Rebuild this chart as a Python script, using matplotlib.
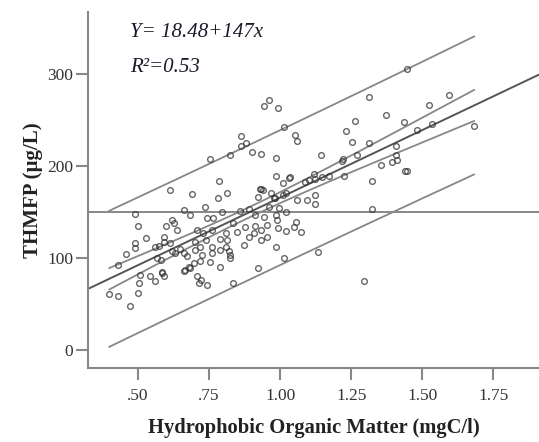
import numpy as np
import matplotlib
matplotlib.use("Agg")
import matplotlib.pyplot as plt

# ---- data ----
hom = [1.445, 1.312, 1.594, 1.523, 1.535, 1.682, 1.482, 1.374, 1.263, 1.232,
       1.435, 1.251, 1.312, 1.406, 1.406, 1.392, 1.412, 1.353, 1.271, 1.216,
       1.222, 1.225, 1.438, 1.447, 1.324, 1.324, 1.295, 1.144, 1.118, 1.101,
       1.124, 1.148, 1.171, 1.089, 1.122, 1.122, 1.093, 1.060, 1.032, 1.035,
       1.011, 1.019, 1.011, 0.980, 0.982, 0.966, 0.934, 0.940, 0.984, 0.984,
       1.013, 1.052, 1.060, 0.943, 0.961, 0.992, 0.863, 0.881, 0.863, 0.902,
       0.931, 0.822, 0.752, 0.784, 0.813, 0.781, 0.691, 0.612, 0.921, 0.734,
       0.796, 0.763, 0.743, 0.661, 0.684, 0.860, 0.891, 0.913, 0.943, 0.961,
       0.984, 0.995, 1.022, 0.989, 1.054, 1.048, 1.072, 1.022, 0.992, 0.954,
       0.931, 0.907, 0.890, 0.872, 0.849, 0.835, 0.810, 0.813, 0.790, 0.809,
       0.790, 0.819, 0.825, 0.825, 0.790, 0.833, 0.743, 0.714, 0.723, 0.708,
       0.752, 0.761, 0.761, 0.725, 0.719, 0.702, 0.699, 0.708, 0.729, 0.738,
       0.719, 0.696, 0.678, 0.661, 0.684, 0.661, 0.672, 0.649, 0.631, 0.620,
       0.614, 0.637, 0.626, 0.620, 0.600, 0.590, 0.593, 0.573, 0.561, 0.567,
       0.579, 0.585, 0.590, 0.561, 0.543, 0.508, 0.502, 0.500, 0.471, 0.430,
       0.399, 0.430, 0.459, 0.491, 0.491, 0.500, 0.491, 0.528, 1.013, 0.923,
       1.134, 0.984, 0.954, 0.931, 0.913, 0.878, 0.665, 0.928, 0.585, 0.760]
thmfp = [305.8, 274.5, 277.5, 266.5, 245.8, 243.6, 239.3, 255.3, 248.4, 237.8,
         247.3, 225.8, 224.7, 221.1, 212.0, 204.7, 206.5, 201.1, 211.3, 205.8,
         207.0, 189.0, 194.5, 194.5, 183.6, 152.7, 74.5, 211.6, 191.3, 184.7,
         185.8, 187.6, 189.0, 182.9, 168.4, 158.5, 162.9, 162.9, 186.5, 187.5,
         181.8, 170.2, 168.4, 164.7, 165.5, 170.9, 174.5, 174.0, 189.5, 208.4,
         242.2, 233.8, 227.6, 265.5, 271.3, 263.3, 232.7, 224.7, 221.8, 215.6,
         213.1, 211.6, 207.6, 183.6, 170.9, 164.7, 169.5, 173.8, 165.8, 154.9,
         149.5, 143.6, 142.9, 152.0, 146.5, 151.3, 152.7, 146.5, 144.7, 155.6,
         146.5, 153.8, 150.2, 141.1, 139.3, 133.8, 127.6, 129.1, 132.7, 135.6,
         130.2, 126.5, 122.9, 113.8, 128.4, 138.2, 127.3, 119.3, 120.0, 112.0,
         108.4, 107.6, 99.3, 102.9, 90.2, 72.0, 70.2, 72.0, 75.6, 80.0,
         95.6, 104.7, 112.0, 102.9, 112.0, 108.4, 116.7, 130.2, 126.5, 119.3,
         96.4, 93.8, 90.2, 85.8, 89.1, 105.5, 101.8, 109.1, 104.7, 107.6,
         115.6, 130.2, 138.2, 141.1, 134.5, 122.2, 117.1, 113.1, 112.0, 99.3,
         97.5, 83.6, 80.0, 74.5, 80.0, 81.1, 72.0, 61.1, 47.3, 58.5,
         60.4, 92.0, 104.0, 110.2, 116.4, 134.5, 147.3, 121.1, 100.0, 89.1,
         106.5, 112.0, 122.9, 119.3, 134.9, 133.8, 86.5, 175.0, 84.0, 130.0]

intercept = 18.48
slope = 147.0
ref_level = 150
xticks = [0.50, 0.75, 1.00, 1.25, 1.50, 1.75]
xticklabels = [".50", ".75", "1.00", "1.25", "1.50", "1.75"]
yticks = [0, 100, 200, 300]
eq_text = "Y= 18.48+147x"
r2_text = "R²=0.53"
xlabel = "Hydrophobic Organic Matter (mgC/l)"
ylabel = "THMFP (µg/L)"

x = np.array(hom)
y = np.array(thmfp)
n = len(x)

fig = plt.figure(figsize=(5.39, 4.42), dpi=100)
ax = fig.add_axes([0.1633, 0.1674, 0.8367, 0.8055])
ax.set_xlim(0.324, 1.9105)
ax.set_ylim(-20.0, 367.5)

gray = "#878787"
# reference horizontal line
ax.axhline(ref_level, color=gray, lw=1.4, zorder=1)

# regression line over full range
xl = np.array(ax.get_xlim())
ax.plot(xl, intercept + slope * xl, color="#555555", lw=1.4, zorder=2)

# confidence and prediction bands
resid = y - (intercept + slope * x)
s = np.sqrt(np.sum(resid ** 2) / (n - 2))
xm = x.mean()
sxx = np.sum((x - xm) ** 2)
tval = 1.97
xx = np.linspace(x.min(), x.max(), 200)
fit = intercept + slope * xx
se_mean = s * np.sqrt(1.0 / n + (xx - xm) ** 2 / sxx)
se_pred = s * np.sqrt(1.0 + 1.0 / n + (xx - xm) ** 2 / sxx)
for sign in (1, -1):
    ax.plot(xx, fit + sign * tval * se_mean, color=gray, lw=1.3, zorder=2)
    ax.plot(xx, fit + sign * tval * se_pred, color=gray, lw=1.3, zorder=2)

ax.plot(x, y, linestyle="none", marker="o", markersize=4.1,
        markerfacecolor="none", markeredgecolor="#333333",
        markeredgewidth=1.0, alpha=0.75, zorder=3)

# axes styling
for side in ("top", "right"):
    ax.spines[side].set_visible(False)
for side in ("left", "bottom"):
    ax.spines[side].set_color(gray)
    ax.spines[side].set_linewidth(1.5)
ax.tick_params(axis="both", direction="out", length=8.5, width=1.5,
               color=gray, labelsize=12.5)
ax.tick_params(axis="x", pad=6)
ax.tick_params(axis="y", pad=2)
ax.set_xticks(xticks)
ax.set_xticklabels(xticklabels, family="Liberation Serif", color="#333333")
ax.set_yticks(yticks)
ax.set_yticklabels([str(v) for v in yticks], family="Liberation Serif",
                   color="#333333")

ax.set_xlabel(xlabel, family="Liberation Serif", fontweight="bold",
              fontsize=14.8, color="#222222", labelpad=10)
ax.set_ylabel(ylabel, family="Liberation Serif", fontweight="bold",
              fontsize=15, color="#222222", labelpad=3)

ax.text(0.093, 0.941, eq_text, transform=ax.transAxes, family="Liberation Serif",
        style="italic", fontsize=15, color="#1a1a2a", va="center")
ax.text(0.093, 0.843, r2_text, transform=ax.transAxes, family="Liberation Serif",
        style="italic", fontsize=15, color="#1a1a2a", va="center")

fig.savefig("out.png", dpi=100)
